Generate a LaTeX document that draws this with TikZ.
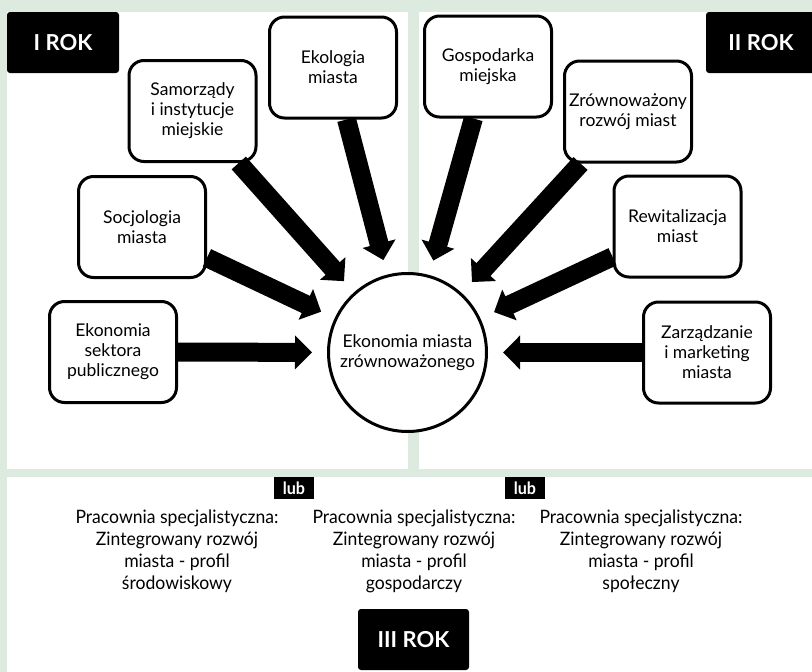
\documentclass[tikz,border=0pt]{standalone}
\usepackage{fontspec}
\setmainfont{Lato}
\newfontfamily\condfont[FakeStretch=0.95]{Lato}
\usetikzlibrary{arrows.meta}
\definecolor{bggreen}{HTML}{DDEADF}
\begin{document}
\begin{tikzpicture}[x=1pt,y=-1pt,
  topic/.style={draw, line width=3pt, rounded corners=15pt, fill=white,
    minimum width=127pt, minimum height=101pt, align=center, inner sep=2pt,
    font=\fontsize{17.5}{20}\selectfont},
  core/.style={draw, circle, line width=3pt, fill=white, minimum size=158pt,
    align=center, inner sep=0pt, font=\fontsize{17.5}{20}\selectfont},
  yearbox/.style={fill=black, text=white, rounded corners=3pt, inner sep=0pt,
    font=\fontsize{22}{24}\selectfont\bfseries},
  lubbox/.style={fill=black, text=white, minimum width=40pt, minimum height=22pt,
    inner sep=0pt, font=\condfont\fontsize{17}{18}\selectfont\bfseries},
  labtext/.style={align=center, inner sep=0pt, font=\condfont\fontsize{18.5}{22}\selectfont},
  flow/.style={line width=19pt, -{Triangle[width=33pt,length=17pt]}, shorten >=15pt}
]
\path[use as bounding box, fill=bggreen] (0,0) rectangle (812,672);
\fill[white] (7,12) rectangle (408,469);
\fill[white] (419,12) rectangle (812,469);
\fill[white] (7,477) rectangle (812,672);

\node[yearbox, minimum width=112pt, minimum height=61pt] (y1) at (63,42.5) {I ROK};
\node[yearbox, minimum width=110pt, minimum height=61pt] (y2) at (761,42.5) {II ROK};
\node[yearbox, minimum width=111pt, minimum height=61pt] (y3) at (413.5,639.5) {III ROK};

\node[topic] (eko) at (333,67.5) {Ekologia\\miasta};
\node[topic] (sam) at (192.5,111) {Samorządy\\i instytucje\\miejskie};
\node[topic] (soc) at (142,227) {Socjologia\\miasta};
\node[topic] (eks) at (113,352) {Ekonomia\\sektora\\publicznego};
\node[topic] (gos) at (488,66.5) {Gospodarka\\miejska};
\node[topic] (zro) at (628,111.5) {Zrównoważony\\rozwój miast};
\node[topic] (rew) at (677.5,226.5) {Rewitalizacja\\miast};
\node[topic] (zar) at (707,352.5) {Zarządzanie\\i marketing\\miasta};

\node[core] (core) at (407.5,352.5) {Ekonomia miasta\\zrównoważonego};

\foreach \src in {eko,sam,soc,eks,gos,zro,rew,zar}
  \draw[flow] (\src) -- (core);

\node[lubbox] (lub1) at (294,488) {lub};
\node[lubbox] (lub2) at (525,488) {lub};

\node[labtext] (p1) at (177,551) {Pracownia specjalistyczna:\\Zintegrowany rozwój\\miasta - profil\\środowiskowy};
\node[labtext] (p2) at (414,551) {Pracownia specjalistyczna:\\Zintegrowany rozwój\\miasta - profil\\gospodarczy};
\node[labtext] (p3) at (641,551) {Pracownia specjalistyczna:\\Zintegrowany rozwój\\miasta - profil\\społeczny};
\end{tikzpicture}
\end{document}
